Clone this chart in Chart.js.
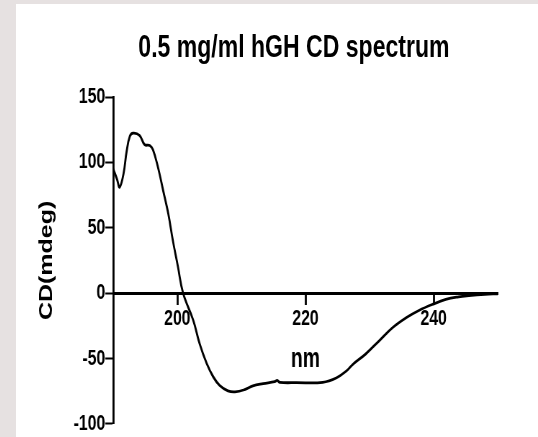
<!DOCTYPE html>
<html>
<head>
<meta charset="utf-8">
<script src="https://cdn.jsdelivr.net/npm/chart.js@4.4.1/dist/chart.umd.min.js"></script>
<style>
  html, body { margin: 0; padding: 0; }
  body { width: 538px; height: 437px; background: #e6e1e1; overflow: hidden; position: relative; }
  #panel { position: absolute; left: 16px; top: 4px; width: 522px; height: 433px; background: #fff; overflow: hidden; }
  /* figura estrecha: se dibuja ancha y se comprime en horizontal */
  #lienzo { position: absolute; left: 0; top: 0; width: 725px; height: 433px;
            transform: scaleX(0.72); transform-origin: 0 0; }
  #titulo { position: absolute; left: 0; top: 24px; width: 772px; text-align: center;
            font: bold 32px 'Liberation Sans', Arial, sans-serif; line-height: 36px; color: #000; }
  #grafica { position: absolute; left: 0; top: 0; }
</style>
</head>
<body>
<div id="panel">
  <div id="lienzo">
    <canvas id="grafica" width="725" height="433"></canvas>
    <div id="titulo">0.5 mg/ml hGH CD spectrum</div>
  </div>
</div>
<script>
// longitud de onda (nm) y señal CD (mdeg)
var longitudes = [190, 190.6, 191, 191.6, 192.1, 192.6, 193.1, 194.1, 194.9, 195.7, 196.2, 197, 197.8,
    198.6, 199.3, 200.1, 200.9, 202.5, 203.5, 204.6, 205.6, 206.6, 207.9, 209, 210.5, 211.8, 213.4,
    215.2, 215.6, 216, 218.6, 222.7, 224.8, 226.4, 227.4, 229.4, 231.5, 233.6, 235.7, 237.7, 239.8,
    241.9, 243.9, 245.5, 248, 250];
var senalCD = [95, 87, 81, 91, 108.6, 120, 122.4, 120.7, 113.6, 112.9, 109.8, 96, 78.3,
    60.6, 40.4, 20.2, 0, -21, -39, -54, -64, -70.6, -74.8, -75.6, -73.9, -71, -69.3,
    -67.8, -66.8, -68.3, -68.5, -68.3, -65, -59.5, -54.5, -46.6, -36.5, -26.4, -18.9, -13.3, -8.7,
    -4.9, -2.9, -2, -1, -0.5];
var ticksX = [200, 220, 240];
var ticksY = [-100, -50, 0, 50, 100, 150];

var fuente = "'Liberation Sans', Arial, sans-serif";

var puntos = longitudes.map(function (nm, i) {
    return { x: nm, y: senalCD[i] };
});

var ctx = document.getElementById('grafica').getContext('2d');

new Chart(ctx, {
    type: 'line',
    data: {
        datasets: [{
            data: puntos,
            borderColor: '#000',
            borderWidth: 2.8,
            pointRadius: 0,
            tension: 0.4,
            fill: false
        }]
    },
    options: {
        responsive: false,
        animation: false,
        layout: { padding: { top: 93, left: 0, right: 56, bottom: -78 } },
        plugins: {
            legend: { display: false },
            tooltip: { enabled: false }
        },
        scales: {
            x: {
                type: 'linear',
                min: 190,
                max: 250,
                position: { y: 0 },
                afterBuildTicks: function (scale) {
                    scale.ticks = ticksX.map(function (v) { return { value: v }; });
                },
                afterFit: function (scale) { scale.height = 83; },
                grid: { display: true, drawOnChartArea: false, drawTicks: true, tickLength: 10, tickWidth: 2.8, tickColor: '#000' },
                border: { display: true, color: '#000', width: 3 },
                ticks: { color: '#000', padding: 3, maxRotation: 0, font: { family: fuente, size: 22, weight: 'bold' } },
                title: { display: true, text: 'nm', color: '#000', padding: 0, font: { family: fuente, size: 27, weight: 'bold' } }
            },
            y: {
                min: -100,
                max: 150,
                afterBuildTicks: function (scale) {
                    scale.ticks = ticksY.map(function (v) { return { value: v }; });
                },
                afterFit: function (scale) { scale.width = 135; },
                grid: { display: true, drawOnChartArea: false, drawTicks: true, tickLength: 11, tickWidth: 2, tickColor: '#000' },
                border: { display: true, color: '#000', width: 2.8 },
                ticks: { color: '#000', padding: 0, font: { family: fuente, size: 22, weight: 'bold' } },
                title: { display: true, text: 'CD(mdeg)', color: '#000', padding: { top: 28, bottom: 0 }, font: { family: fuente, size: 25, weight: 'bold' } }
            }
        }
    }
});
</script>
</body>
</html>
